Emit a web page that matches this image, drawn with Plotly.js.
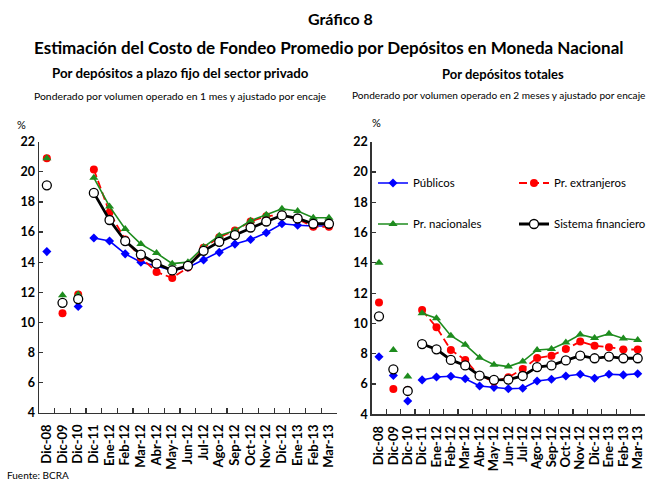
<!DOCTYPE html>
<html><head><meta charset="utf-8">
<script src="https://cdn.plot.ly/plotly-3.0.1.min.js"></script>
<style>html,body{margin:0;padding:0;background:#fff;overflow:hidden;width:648px;height:482px}#chart{width:648px;height:482px;overflow:hidden}</style>
</head><body><div id="chart"></div>
<script>
const categories = ["Dic-08","Dic-09","Dic-10","Dic-11","Ene-12","Feb-12","Mar-12","Abr-12","May-12","Jun-12","Jul-12","Ago-12","Sep-12","Oct-12","Nov-12","Dic-12","Ene-13","Feb-13","Mar-13"];
const seriesNames = ["Públicos","Pr. extranjeros","Pr. nacionales","Sistema financiero"];

// Left panel: plazo fijo sector privado
const plazoPublicos      = [14.7,11.3,11.05,15.6,15.4,14.55,14.0,13.75,13.45,13.65,14.15,14.65,15.2,15.5,15.95,16.55,16.45,16.4,16.4];
const plazoExtranjeros   = [20.9,10.6,11.85,20.15,17.3,15.5,14.3,13.35,12.95,13.65,14.95,15.65,16.1,16.7,17.05,17.15,16.85,16.35,16.35];
const plazoNacionales    = [20.9,11.8,11.85,19.6,17.7,16.2,15.2,14.6,13.9,14.0,15.0,15.75,16.1,16.75,17.15,17.55,17.4,16.95,16.95];
const plazoSistema       = [19.1,11.3,11.55,18.6,16.8,15.4,14.5,13.9,13.45,13.75,14.75,15.35,15.8,16.3,16.7,17.1,16.9,16.55,16.55];

// Right panel: depósitos totales
const totalPublicos      = [7.8,6.57,4.88,6.27,6.46,6.51,6.35,5.87,5.78,5.69,5.72,6.2,6.31,6.53,6.64,6.38,6.64,6.6,6.68];
const totalExtranjeros   = [11.38,5.67,5.6,10.89,9.74,8.25,7.59,6.53,6.16,6.44,6.99,7.72,7.87,8.31,8.8,8.53,8.43,8.28,8.28];
const totalNacionales    = [14.0,8.25,6.5,10.67,10.34,9.19,8.6,7.74,7.28,7.15,7.48,8.25,8.31,8.74,9.27,9.03,9.32,9.0,8.91];
const totalSistema       = [10.47,6.97,5.54,8.64,8.29,7.59,7.23,6.55,6.27,6.29,6.53,7.12,7.23,7.56,7.87,7.7,7.81,7.7,7.7];

const yTicks = [4,6,8,10,12,14,16,18,20,22];

const styles = [
  {line:{color:"#0000ff", width:1.6}, marker:{symbol:"diamond", size:7, color:"#0000ff"}},
  {line:{color:"#ff0000", width:1.8, dash:"8px,4px"}, marker:{symbol:"circle", size:8, color:"#ff0000"}},
  {line:{color:"#1e8c1e", width:1.6}, marker:{symbol:"triangle-up", size:8, color:"#1e8c1e"}},
  {line:{color:"#000000", width:2.8}, marker:{symbol:"circle", size:9, color:"#ffffff", line:{color:"#000000", width:1.3}}}
];
const legendFor = ["legend","legend","legend2","legend2"];

const traces = [];
function addPanel(data, xa, ya, showLeg){
  data.forEach((vals, i) => {
    const s = styles[i];
    traces.push({type:"scatter", mode:"markers", x:categories.slice(0,3), y:vals.slice(0,3),
      xaxis:xa, yaxis:ya, marker:s.marker, showlegend:false, hoverinfo:"skip", cliponaxis:false});
  });
  data.forEach((vals, i) => {
    const s = styles[i];
    traces.push({type:"scatter", mode:"lines+markers", name:seriesNames[i], x:categories.slice(3), y:vals.slice(3),
      xaxis:xa, yaxis:ya, line:s.line, marker:s.marker, showlegend:showLeg, legend:legendFor[i], cliponaxis:false});
  });
}
addPanel([plazoPublicos,plazoExtranjeros,plazoNacionales,plazoSistema],"x","y",false);
addPanel([totalPublicos,totalExtranjeros,totalNacionales,totalSistema],"x2","y2",true);

const W=648,H=482;
const fontFam = "Lato, 'Open Sans', sans-serif";
const xAxisBase = {type:"category", categoryarray:categories, range:[-0.5,18.5], showgrid:false, zeroline:false,
  showline:true, linecolor:"#333", linewidth:1.5, ticks:"inside", ticklen:5, tickcolor:"#333", tickwidth:1.2,
  tickmode:"linear", tick0:0, dtick:1, tickson:"boundaries", tickangle:-90, ticklabelstandoff:5,
  tickfont:{family:fontFam, size:13, color:"#000", weight:"bold"}, fixedrange:true};
const yAxisBase = {range:[4,22], tickvals:yTicks, showgrid:false, zeroline:false, showline:true, linecolor:"#333", linewidth:1.5,
  ticks:"inside", ticklen:4, tickcolor:"#333", tickwidth:1.2, tickfont:{family:fontFam, size:12.5, color:"#000", weight:"bold"}, fixedrange:true};

const legFont = {family:fontFam, size:11.4, color:"#000"};
const layout = {
  width:W, height:H, margin:{l:0,r:0,t:0,b:0,autoexpand:false}, paper_bgcolor:"#fff", plot_bgcolor:"rgba(0,0,0,0)",
  font:{family:fontFam, color:"#000"},
  xaxis: Object.assign({}, xAxisBase, {domain:[39/W, 336.8/W], anchor:"y"}),
  yaxis: Object.assign({}, yAxisBase, {domain:[(H-412.7)/H, (H-141.7)/H], anchor:"x"}),
  xaxis2: Object.assign({}, xAxisBase, {domain:[371.8/W, 644.9/W], anchor:"y2"}),
  yaxis2: Object.assign({}, yAxisBase, {domain:[(H-414.3)/H, (H-141.7)/H], anchor:"x2"}),
  legend:{orientation:"h", x:373/W, y:1-183/H, xanchor:"left", yanchor:"middle", entrywidth:96,
    font:legFont, bgcolor:"rgba(0,0,0,0)", itemclick:false},
  legend2:{orientation:"h", x:373/W, y:1-224/H, xanchor:"left", yanchor:"middle", entrywidth:96,
    font:legFont, bgcolor:"rgba(0,0,0,0)", itemclick:false},
  annotations:[
    {text:"<b>Gráfico 8</b>", x:340/W, y:1-19/H, xref:"paper", yref:"paper", showarrow:false, font:{size:16}, xanchor:"center", yanchor:"middle"},
    {text:"<b>Estimación del Costo de Fondeo Promedio por Depósitos en Moneda Nacional</b>", x:329/W, y:1-48/H, xref:"paper", yref:"paper", showarrow:false, font:{size:17}, xanchor:"center", yanchor:"middle"},
    {text:"<b>Por depósitos a plazo fijo del sector privado</b>", x:180/W, y:1-73/H, xref:"paper", yref:"paper", showarrow:false, font:{size:13.3}, xanchor:"center", yanchor:"middle"},
    {text:"Ponderado por volumen operado en 1 mes y ajustado por encaje", x:180/W, y:1-96/H, xref:"paper", yref:"paper", showarrow:false, font:{size:10.4}, xanchor:"center", yanchor:"middle"},
    {text:"<b>Por depósitos totales</b>", x:503/W, y:1-74/H, xref:"paper", yref:"paper", showarrow:false, font:{size:13}, xanchor:"center", yanchor:"middle"},
    {text:"Ponderado por volumen operado en 2 meses y ajustado por encaje", x:647/W, y:1-95/H, xref:"paper", yref:"paper", showarrow:false, font:{size:10.1}, xanchor:"right", yanchor:"middle"},
    {text:"%", x:21/W, y:1-125/H, xref:"paper", yref:"paper", showarrow:false, font:{size:11}, xanchor:"center", yanchor:"middle"},
    {text:"%", x:376/W, y:1-122/H, xref:"paper", yref:"paper", showarrow:false, font:{size:11}, xanchor:"center", yanchor:"middle"},
    {text:"Fuente: BCRA", x:5/W, y:1-475/H, xref:"paper", yref:"paper", showarrow:false, font:{size:10}, xanchor:"left", yanchor:"middle"}
  ]
};
Plotly.newPlot("chart", traces, layout, {displayModeBar:false, staticPlot:true});
</script></body></html>
